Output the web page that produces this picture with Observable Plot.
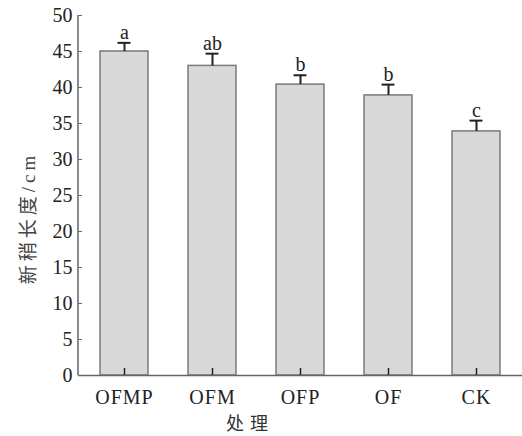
<!DOCTYPE html>
<html>
<head>
<meta charset="utf-8">
<script src="https://cdn.jsdelivr.net/npm/d3@7"></script>
<script src="https://cdn.jsdelivr.net/npm/@observablehq/plot@0.6"></script>
<style>
  html, body { margin: 0; padding: 0; background: #fff; }
  #wrap { position: relative; width: 522px; height: 436px; }
  .title { position: absolute; white-space: nowrap; font-family: 'Liberation Serif', 'Noto Sans CJK SC', serif; color: #444; line-height: 1; }
  #xt { left: 250px; top: 413px; transform: translateX(-50%); font-size: 18px; letter-spacing: 6px; font-family: 'Noto Sans CJK SC', sans-serif; color: #333; }
  #yt { left: 28px; top: 218px; transform: translate(-50%, -50%) rotate(-90deg); font-size: 19px; letter-spacing: 4px; }
</style>
</head>
<body>
<div id="wrap"></div>
<script>
const treatments = ["OFMP", "OFM", "OFP", "OF", "CK"];
const lengths = [45.0, 43.0, 40.4, 38.9, 33.9];
const errors = [1.2, 1.7, 1.3, 1.5, 1.5];
const letters = ["a", "ab", "b", "b", "c"];
const yTicks = [0, 5, 10, 15, 20, 25, 30, 35, 40, 45, 50];
const xTitle = "处理";
const yTitle = "新稍长度/cm";

const data = treatments.map((t, i) => ({t, v: lengths[i], top: lengths[i] + errors[i], lab: letters[i]}));

const serif = "Liberation Serif";

const chart = Plot.plot({
  width: 522,
  height: 436,
  marginTop: 15,
  marginBottom: 61,
  marginLeft: 78,
  marginRight: 0,
  style: {fontFamily: serif, fontSize: "20px", color: "#222", background: "#fff", overflow: "visible"},
  x: {domain: treatments, paddingInner: 0.46, paddingOuter: 0.23, label: null},
  y: {domain: [0, 50], label: null},
  marks: [
    Plot.barY(data, {x: "t", y: "v", fill: "#d9d9d9", stroke: "#7a7a7a", strokeWidth: 1.5}),
    Plot.ruleX(data, {x: "t", y1: "v", y2: "top", stroke: "#222", strokeWidth: 2}),
    Plot.tickY(data, {x: "t", y: "top", stroke: "#222", strokeWidth: 2, insetLeft: 17.5, insetRight: 17.5}),
    Plot.text(data, {x: "t", y: "top", text: "lab", dy: -4, lineAnchor: "bottom", fontSize: 20, fontFamily: serif, fill: "#222"}),
    Plot.ruleX(treatments, {x: d => d, y1: 0, y2: 0.98, stroke: "#222", strokeWidth: 1.5}),
    Plot.ruleY([0], {stroke: "#666", strokeWidth: 1.5}),
    Plot.axisY({ticks: yTicks, tickSize: -4, tickPadding: 10, stroke: "#666", fontSize: 20, fontFamily: serif, fill: "#222"}),
    Plot.axisX({tickSize: 0, tickPadding: 14, fontSize: 20, fontFamily: serif, fill: "#222"})
  ]
});

const wrap = document.getElementById("wrap");
wrap.appendChild(chart);

// left axis line spanning the y domain
const ys = chart.scale("y");
d3.select(chart).append("line")
  .attr("x1", 78).attr("x2", 78)
  .attr("y1", ys.apply(0)).attr("y2", ys.apply(50))
  .attr("stroke", "#666").attr("stroke-width", 1.5);

d3.select(chart).selectAll("g[aria-label='x-axis tick label'] text").style("letter-spacing", "1px");
d3.select(chart).selectAll("g[aria-label='y-axis tick label'] text")
  .style("font-family", serif).style("font-variant-numeric", "normal");

const xt = document.createElement("div");
xt.id = "xt"; xt.className = "title"; xt.textContent = xTitle;
const yt = document.createElement("div");
yt.id = "yt"; yt.className = "title"; yt.textContent = yTitle;
wrap.appendChild(xt);
wrap.appendChild(yt);
</script>
</body>
</html>
